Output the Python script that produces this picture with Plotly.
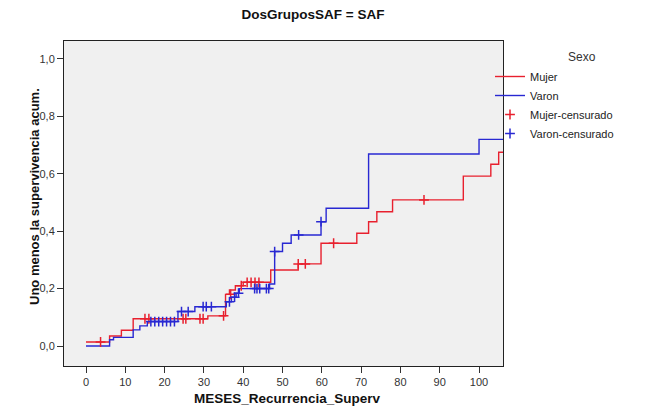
import plotly.graph_objects as go

# ---- data ----
mujer_t = [0, 6, 9, 12, 31, 35.5, 36.5, 38, 40, 47, 54, 59.8, 68.9, 71.9, 74, 78, 96, 103, 105]
mujer_v = [0.014, 0.035, 0.055, 0.095, 0.105, 0.18, 0.195, 0.21, 0.222, 0.265, 0.286, 0.358,
           0.393, 0.433, 0.468, 0.509, 0.592, 0.633, 0.675]
mujer_end = 106.1

varon_t = [0, 6, 7, 12, 13.7, 15.6, 23.4, 27.7, 35.7, 37, 38.2, 39, 46.7, 48, 50, 52.2, 59.8, 61.1, 71.9, 100]
varon_v = [0.0, 0.022, 0.03, 0.056, 0.07, 0.085, 0.12, 0.137, 0.154, 0.17, 0.184, 0.2, 0.216,
           0.329, 0.358, 0.387, 0.433, 0.48, 0.669, 0.72]
varon_end = 106.1

mujer_cens_t = [3.7, 15.0, 16.0, 24.7, 25.4, 29.0, 29.8, 35.0, 36.8, 39.5, 41.0, 42.0, 43.0, 44.0, 54.0, 55.8, 63.0, 86.0]
mujer_cens_v = [0.014, 0.095, 0.095, 0.095, 0.095, 0.095, 0.095, 0.105, 0.18, 0.21, 0.222, 0.222,
                0.222, 0.222, 0.286, 0.286, 0.358, 0.509]

varon_cens_t = [16.5, 17.5, 18.5, 19.5, 20.5, 21.5, 22.5, 24.3, 26.0, 29.8, 30.6, 31.9, 36.5, 37.8,
                38.8, 42.9, 43.5, 44.2, 45.9, 46.5, 48.0, 54.1, 59.8]
varon_cens_v = [0.085, 0.085, 0.085, 0.085, 0.085, 0.085, 0.085, 0.12, 0.12, 0.137, 0.137, 0.137,
                0.154, 0.17, 0.184, 0.2, 0.2, 0.2, 0.2, 0.2, 0.329, 0.387, 0.433]

x_ticks = list(range(0, 101, 10))
y_ticks = [0.0, 0.2, 0.4, 0.6, 0.8, 1.0]

RED = "#E8202E"
BLUE = "#2828D2"

fig = go.Figure()
fig.add_trace(go.Scatter(x=mujer_t + [mujer_end], y=mujer_v + [mujer_v[-1]], mode="lines",
                         line=dict(color=RED, width=1.4, shape="hv"), name="Mujer"))
fig.add_trace(go.Scatter(x=varon_t + [varon_end], y=varon_v + [varon_v[-1]], mode="lines",
                         line=dict(color=BLUE, width=1.4, shape="hv"), name="Varon"))
fig.add_trace(go.Scatter(x=mujer_cens_t, y=mujer_cens_v, mode="markers", name="Mujer-censurado",
                         marker=dict(symbol="cross-thin", size=7, line=dict(color=RED, width=1.5))))
fig.add_trace(go.Scatter(x=varon_cens_t, y=varon_cens_v, mode="markers", name="Varon-censurado",
                         marker=dict(symbol="cross-thin", size=7, line=dict(color=BLUE, width=1.5))))

# page body adds an 8px margin, so the figure is drawn 8px in from the top-left
OFF = 8
W, H = 651 - OFF, 410 - OFF
PL, PR, PT, PB = 64, 503, 41, 366          # plot box in window pixels
L, R, T, B = PL - OFF, 651 - PR, PT - OFF, 410 - PB
PW, PH = PR - PL, PB - PT


def cx(px):
    return (px - OFF) / W


def cy(py):
    return 1 - (py - OFF) / H


def ax(px):
    return (px - PL) / PW


def ay(py):
    return (PB - py) / PH


fig.update_layout(
    width=W, height=H,
    margin=dict(l=L, r=R, t=T, b=B, autoexpand=False),
    paper_bgcolor="white",
    plot_bgcolor="#F0F0F0",
    separators=", ",
    font=dict(family="Arial, Liberation Sans, sans-serif", size=11, color="#333333"),
    title=dict(text="<b>DosGruposSAF = SAF</b>", x=cx(313), xanchor="center", y=cy(14),
               yanchor="middle", xref="container", yref="container",
               font=dict(size=13.5, color="#111111")),
    showlegend=True,
    legend=dict(xref="container", yref="container", x=cx(490), y=cy(62),
                xanchor="left", yanchor="top", bgcolor="rgba(0,0,0,0)",
                font=dict(size=11, color="#222222"), tracegroupgap=0, itemwidth=30),
    xaxis=dict(range=[-5.6, 106.1], tickvals=x_ticks, ticks="outside", ticklen=6,
               tickcolor="#333333", showgrid=False, zeroline=False, showline=True,
               linecolor="#222222", linewidth=1, mirror=True),
    yaxis=dict(range=[-0.0697, 1.0627], tickvals=y_ticks, tickformat=".1f", ticks="outside",
               ticklen=6, tickcolor="#333333", showgrid=False, zeroline=False, showline=True,
               linecolor="#222222", linewidth=1, mirror=True),
)

# legend title
fig.add_annotation(text="Sexo", xref="paper", yref="paper", x=ax(582), y=ay(57),
                   showarrow=False, xanchor="center", yanchor="middle",
                   font=dict(size=12, color="#333333"))

# x-axis title
fig.add_annotation(text="<b>MESES_Recurrencia_Superv</b>", xref="paper", yref="paper",
                   x=ax(287), y=ay(398), showarrow=False,
                   xanchor="center", yanchor="middle", font=dict(size=13.5, color="#111111"))

# rotated y-axis title
fig.add_annotation(text="<b>Uno menos la supervivencia acum.</b>", xref="paper", yref="paper",
                   x=ax(34), y=ay(197), textangle=-90, showarrow=False,
                   font=dict(size=13, color="#111111"), xanchor="center", yanchor="middle")

fig.write_html("out.html")
